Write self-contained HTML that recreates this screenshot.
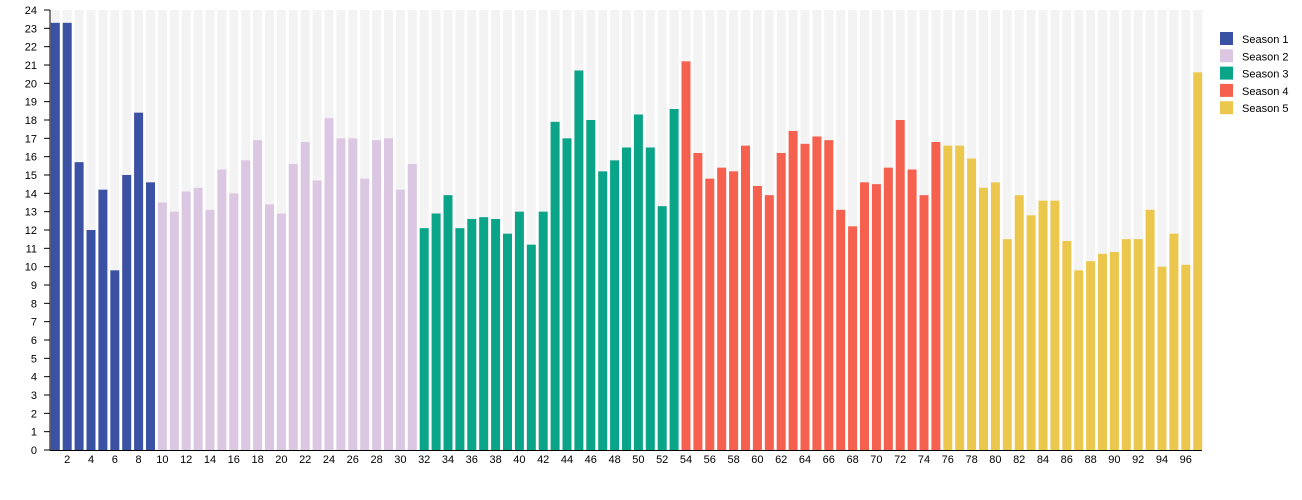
<!DOCTYPE html>
<html><head><meta charset="utf-8"><style>
html,body{margin:0;padding:0;background:#fff;width:1302px;height:500px;overflow:hidden}
svg{display:block;font-family:"Liberation Sans",Arial,sans-serif}
</style></head><body>
<svg id="c" width="1302" height="500" xmlns="http://www.w3.org/2000/svg"></svg>
<script>
var v=[23.3,23.3,15.7,12.0,14.2,9.8,15.0,18.4,14.6,
13.5,13.0,14.1,14.3,13.1,15.3,14.0,15.8,16.9,13.4,12.9,15.6,16.8,14.7,18.1,17.0,17.0,14.8,16.9,17.0,14.2,15.6,
12.1,12.9,13.9,12.1,12.6,12.7,12.6,11.8,13.0,11.2,13.0,17.9,17.0,20.7,18.0,15.2,15.8,16.5,18.3,16.5,13.3,18.6,
21.2,16.2,14.8,15.4,15.2,16.6,14.4,13.9,16.2,17.4,16.7,17.1,16.9,13.1,12.2,14.6,14.5,15.4,18.0,15.3,13.9,16.8,
16.6,16.6,15.9,14.3,14.6,11.5,13.9,12.8,13.6,13.6,11.4,9.8,10.3,10.7,10.8,11.5,11.5,13.1,10.0,11.8,10.1,20.6];
var cols=["#3b51a3","#dcc7e2","#0aa488","#f5604f","#ebc84d"];
function col(i){return i<=9?cols[0]:i<=31?cols[1]:i<=53?cols[2]:i<=75?cols[3]:cols[4];}
var s="",Y0=450,k=440/24,P=11.9,W=9;
for(var i=1;i<=97;i++){var x=50.8+(i-1)*P;
s+='<rect x="'+x+'" y="10" width="'+W+'" height="440" fill="#f3f3f3"/>';
var h=v[i-1]*k;s+='<rect x="'+x+'" y="'+(Y0-h)+'" width="'+W+'" height="'+h+'" fill="'+col(i)+'"/>';
if(i%2==0)s+='<text x="'+(x+W/2)+'" y="463" font-size="11" text-anchor="middle" fill="#000">'+i+'</text>';}
s+='<line x1="50" y1="10" x2="50" y2="450" stroke="#000"/><line x1="50" y1="450.5" x2="1202" y2="450.5" stroke="#000"/>';
for(var t=0;t<=24;t++){var y=Y0-t*k;s+='<line x1="44" y1="'+y+'" x2="50" y2="'+y+'" stroke="#000"/><text x="37" y="'+(y+4)+'" font-size="11" text-anchor="end" fill="#000">'+t+'</text>';}
for(var j=0;j<5;j++){var y=32+j*17.3;s+='<rect x="1220" y="'+y+'" width="13" height="13" fill="'+cols[j]+'"/><text x="1242" y="'+(y+11)+'" font-size="11" fill="#000">Season '+(j+1)+'</text>';}
document.getElementById("c").innerHTML=s;
</script>
</body></html>
